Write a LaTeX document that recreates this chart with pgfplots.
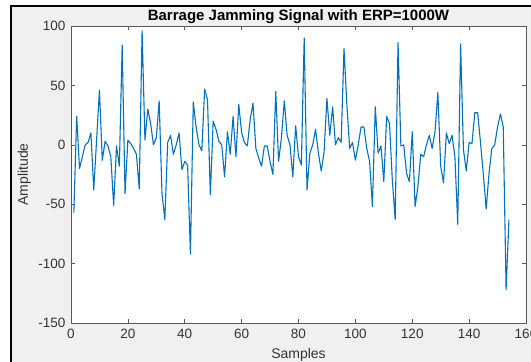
\documentclass[border=0pt]{standalone}
\usepackage{fontspec}
\setmainfont{Liberation Sans}
\usepackage{pgfplots}
\pgfplotsset{compat=1.18}
\definecolor{mblue}{rgb}{0,0.447,0.741}
\definecolor{figbg}{HTML}{F0F0F0}
\definecolor{axgray}{rgb}{0.35,0.35,0.35}
\definecolor{txtgray}{rgb}{0.2,0.2,0.2}
\begin{document}
\begin{tikzpicture}
\clip (0pt,0pt) rectangle (531pt,362pt);
\fill[white] (0pt,0pt) rectangle (531pt,362pt);
\fill[figbg] (11pt,0pt) rectangle (531pt,356pt);
\draw[black, line width=2.2pt] (11pt,0pt) -- (11pt,356pt) -- (531pt,356pt);
\begin{axis}[
  at={(71pt,39pt)}, anchor=south west,
  scale only axis, width=455pt, height=297pt,
  xmin=0, xmax=160, ymin=-150, ymax=100,
  xtick={0,20,...,160}, ytick={-150,-100,...,100},
  tick pos=both, tick align=inside, major tick length=4pt,
  axis line style={axgray, line width=0.8pt},
  tick style={axgray, line width=0.6pt},
  axis background/.style={fill=white},
  /pgf/number format/assume math mode=true,
  ticklabel style={font=\fontsize{13.5}{14}\selectfont, text=txtgray},
  xticklabel style={yshift=-3pt},
  yticklabel style={xshift=-2pt},
  title={\textbf{Barrage Jamming Signal with ERP=1000W}},
  title style={font=\fontsize{15}{16}\selectfont, at={(0.5,1)}, anchor=base, inner sep=0pt, yshift=0pt},
  xlabel={Samples}, ylabel={Amplitude},
  xlabel style={font=\fontsize{14}{15}\selectfont, text=txtgray, at={(0.5,0)}, anchor=north, inner sep=0pt, yshift=-25pt},
  ylabel style={font=\fontsize{14}{15}\selectfont, text=txtgray, at={(axis description cs:-0.088,0.5)}, anchor=south, inner sep=0pt},
]
\addplot[mblue, line width=1.1pt, line join=round] coordinates {
(1,-57)(2,24)(3,-20)(4,-10)(5,0)(6,2)(7,10)(8,-38)(9,4)(10,46)
(11,-13)(12,3)(13,-1)(14,-10)(15,-51)(16,-1)(17,-18)(18,84)(19,-41)(20,4)
(21,1)(22,-3)(23,-8)(24,-37)(25,96)(26,4)(27,30)(28,18)(29,0)(30,6)
(31,37)(32,-41)(33,-63)(34,2)(35,8)(36,-8)(37,0)(38,10)(39,-21)(40,-14)
(41,-17)(42,-92)(43,36)(44,15)(45,0)(46,-5)(47,47)(48,38)(49,-42)(50,20)
(51,13)(52,3)(53,0)(54,-27)(55,11)(56,-8)(57,24)(58,-10)(59,34)(60,10)
(61,2)(62,-1)(63,21)(64,35)(65,-3)(66,-11)(67,-18)(68,-1)(69,-1)(70,-14)
(71,-25)(72,45)(73,-14)(74,6)(75,37)(76,8)(77,0)(78,-27)(79,16)(80,-10)
(81,-17)(82,90)(83,-38)(84,-7)(85,0)(86,13)(87,-7)(88,-22)(89,-6)(90,39)
(91,8)(92,32)(93,0)(94,6)(95,2)(96,81)(97,34)(98,-3)(99,2)(100,-13)
(101,0)(102,15)(103,15)(104,-3)(105,-14)(106,-52)(107,32)(108,-7)(109,-1)(110,-31)
(111,24)(112,18)(113,-30)(114,-63)(115,86)(116,-1)(117,0)(118,-24)(119,-31)(120,11)
(121,-52)(122,-35)(123,-8)(124,-10)(125,0)(126,8)(127,-3)(128,11)(129,44)(130,-18)
(131,-32)(132,10)(133,1)(134,8)(135,-10)(136,-67)(137,85)(138,-4)(139,-22)(140,2)
(141,1)(142,27)(143,27)(144,2)(145,-25)(146,-54)(147,-24)(148,-3)(149,0)(150,15)
(151,26)(152,15)(153,-122)(154,-63)
};
\end{axis}
\end{tikzpicture}
\end{document}
